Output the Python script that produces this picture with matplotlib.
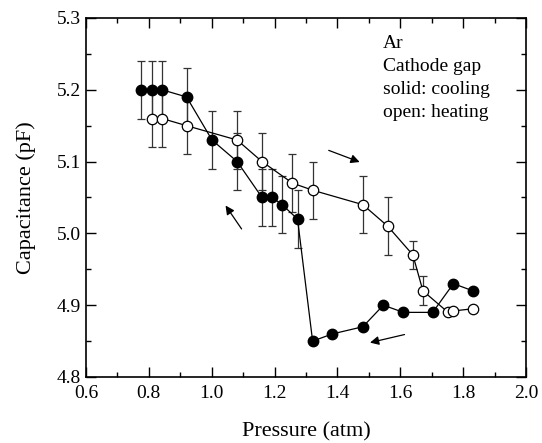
import numpy as np
import matplotlib
matplotlib.use("Agg")
from matplotlib import pyplot as plt
from matplotlib.ticker import MultipleLocator, FormatStrFormatter

plt.rcParams['font.family'] = ['Liberation Serif', 'DejaVu Serif']

# cooling (solid)
p_cool = [0.775, 0.809, 0.842, 0.92, 1.001, 1.081, 1.16, 1.193, 1.224, 1.273,
          1.321, 1.384, 1.481, 1.546, 1.61, 1.703, 1.769, 1.831]
c_cool = [5.20, 5.20, 5.20, 5.19, 5.13, 5.10, 5.05, 5.05, 5.04, 5.02,
          4.85, 4.86, 4.87, 4.90, 4.89, 4.89, 4.93, 4.92]
e_cool = [0.04, 0.04, 0.04, 0.04, 0.04, 0.04, 0.04, 0.04, 0.04, 0.04,
          0, 0, 0, 0, 0, 0, 0, 0]

# heating (open)
p_heat = [0.809, 0.842, 0.92, 1.081, 1.16, 1.257, 1.322, 1.481, 1.56, 1.64,
          1.672, 1.752, 1.769, 1.831]
c_heat = [5.16, 5.16, 5.15, 5.13, 5.10, 5.07, 5.06, 5.04, 5.01, 4.97,
          4.92, 4.89, 4.892, 4.895]
e_heat = [0.04, 0.04, 0.04, 0.04, 0.04, 0.04, 0.04, 0.04, 0.04, 0.02,
          0.02, 0, 0, 0]

notes = ['Ar', 'Cathode gap', 'solid: cooling', 'open: heating']

fig = plt.figure(figsize=(5.42, 4.43), dpi=100)
ax = fig.add_axes([0.1587, 0.149, 0.8118, 0.8104])

ax.errorbar(p_heat, c_heat, yerr=e_heat, fmt='none', ecolor='#333333',
            elinewidth=0.9, capsize=3, capthick=0.9, zorder=1)
ax.errorbar(p_cool, c_cool, yerr=e_cool, fmt='none', ecolor='#333333',
            elinewidth=0.9, capsize=3, capthick=0.9, zorder=1)
ax.plot(p_heat, c_heat, '-o', color='black', lw=0.9, ms=7.5,
        mfc='white', mec='black', mew=0.9, zorder=3)
ax.plot(p_cool, c_cool, '-o', color='black', lw=0.9, ms=7.5,
        mfc='black', mec='black', zorder=2)

arrow = dict(arrowstyle='-|>', color='black', lw=0.9, mutation_scale=13)
ax.annotate('', xy=(1.039, 5.042), xytext=(1.10, 5.003), arrowprops=arrow)
ax.annotate('', xy=(1.479, 5.098), xytext=(1.364, 5.117), arrowprops=arrow)
ax.annotate('', xy=(1.495, 4.847), xytext=(1.622, 4.86), arrowprops=arrow)

# note block, one line every ~23 px
for i, line in enumerate(notes):
    ax.text(0.6745, 0.9177 - i * 0.0645, line, transform=ax.transAxes,
            fontsize=14, va='baseline', ha='left')

ax.set_xlim(0.6, 2.0)
ax.set_ylim(4.8, 5.3)
ax.xaxis.set_major_locator(MultipleLocator(0.2))
ax.xaxis.set_minor_locator(MultipleLocator(0.1))
ax.yaxis.set_major_locator(MultipleLocator(0.1))
ax.yaxis.set_minor_locator(MultipleLocator(0.05))
ax.xaxis.set_major_formatter(FormatStrFormatter('%.1f'))
ax.yaxis.set_major_formatter(FormatStrFormatter('%.1f'))
ax.tick_params(which='both', direction='in', top=True, right=True,
               labelsize=14, width=1)
ax.tick_params(which='major', length=7)
ax.tick_params(which='minor', length=3.5)
ax.tick_params(axis='x', pad=6)
for s in ax.spines.values():
    s.set_linewidth(1.2)

ax.set_xlabel('Pressure (atm)', fontsize=16, labelpad=14)
ax.set_ylabel('Capacitance (pF)', fontsize=16, labelpad=15)

fig.savefig('out.png', dpi=100)
